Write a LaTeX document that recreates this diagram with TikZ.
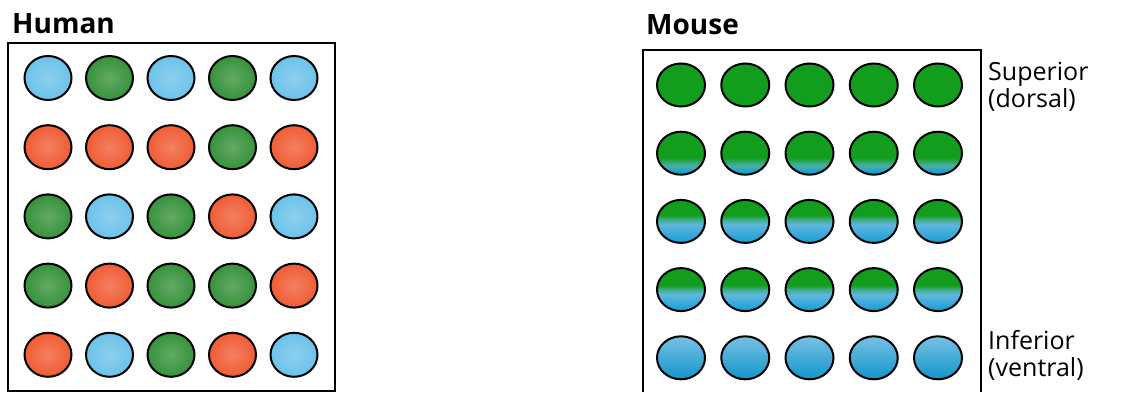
\documentclass[tikz,border=0pt]{standalone}
\usepackage{fontspec}
\setmainfont{Open Sans}
\usetikzlibrary{shapes.geometric}

\definecolor{hb}{RGB}{108,194,234}
\definecolor{hg}{RGB}{54,146,58}
\definecolor{hr}{RGB}{240,92,52}
\definecolor{mgreen}{RGB}{18,158,28}
\definecolor{mblue}{RGB}{18,158,214}
\definecolor{mpale}{RGB}{96,182,222}

% vertical shadings: 25bp = bottom of the cell, 75bp = top
\pgfdeclareverticalshading{mtop}{100bp}{color(0bp)=(mgreen); color(100bp)=(mgreen)}
\pgfdeclareverticalshading{mmid}{100bp}{color(0bp)=(mblue); color(27bp)=(mblue);
  color(36bp)=(mpale!70!mgreen); color(45bp)=(mgreen); color(100bp)=(mgreen)}
\pgfdeclareverticalshading{mlow}{100bp}{color(0bp)=(mblue); color(25bp)=(mblue);
  color(46bp)=(mpale); color(52bp)=(mpale!60!mgreen); color(57bp)=(mgreen); color(100bp)=(mgreen)}
\pgfdeclareverticalshading{mlowb}{100bp}{color(0bp)=(mblue); color(25bp)=(mblue);
  color(44bp)=(mpale); color(50bp)=(mpale!60!mgreen); color(55bp)=(mgreen); color(100bp)=(mgreen)}
\pgfdeclareverticalshading{mbot}{100bp}{color(0bp)=(mblue!95!black); color(25bp)=(mblue!95!black);
  color(75bp)=(mpale!85!white); color(100bp)=(mpale!85!white)}

\begin{document}
\begin{tikzpicture}[
    x=1pt, y=1pt,
    box/.style={draw, line width=1.1pt},
    cell/.style={ellipse, draw=black, line width=2pt, inner sep=0pt},
    hcell/.style={cell, minimum width=47pt, minimum height=44pt},
    mcell/.style={cell, minimum width=48pt, minimum height=43pt, shade},
    title/.style={anchor=base west, inner sep=0pt, font=\fontsize{28}{30}\selectfont\bfseries},
    side/.style={anchor=base west, inner sep=0pt, align=left,
        font=\fontsize{25}{27}\selectfont}
]
\useasboundingbox (0,0) rectangle (1121,392);

% human retina: mosaic of cones
\node[title] (human) at (12,359) {Human};
\draw[box] (8,1) rectangle (335,349);
\foreach \row [count=\r from 0] in {{hb,hg,hb,hg,hb},{hr,hr,hr,hg,hr},{hg,hb,hg,hr,hb},{hg,hr,hg,hg,hr},{hr,hb,hg,hr,hb}}
  \foreach \col [count=\c from 0] in \row
    \node[hcell, inner color=\col!78!white, outer color=\col] (h-\r-\c) at (48+61.5*\c, 314-69.2*\r) {};

% mouse retina: gradient from dorsal to ventral
\node[title] (mouse) at (646,357) {Mouse};
\draw[box] (643,0) -- (643,342) -- (981,342) -- (981,0);
\foreach \s [count=\r from 0] in {mtop,mmid,mlow,mlowb,mbot}
  \foreach \c in {0,...,4}
    \node[mcell, shading=\s] (m-\r-\c) at (681+64.25*\c, 307-68.2*\r) {};

% base anchor sits on the last line
\node[side] (sup) at (988,285) {Superior\\(dorsal)};
\node[side] (inf) at (988,16) {Inferior\\(ventral)};

\end{tikzpicture}
\end{document}
